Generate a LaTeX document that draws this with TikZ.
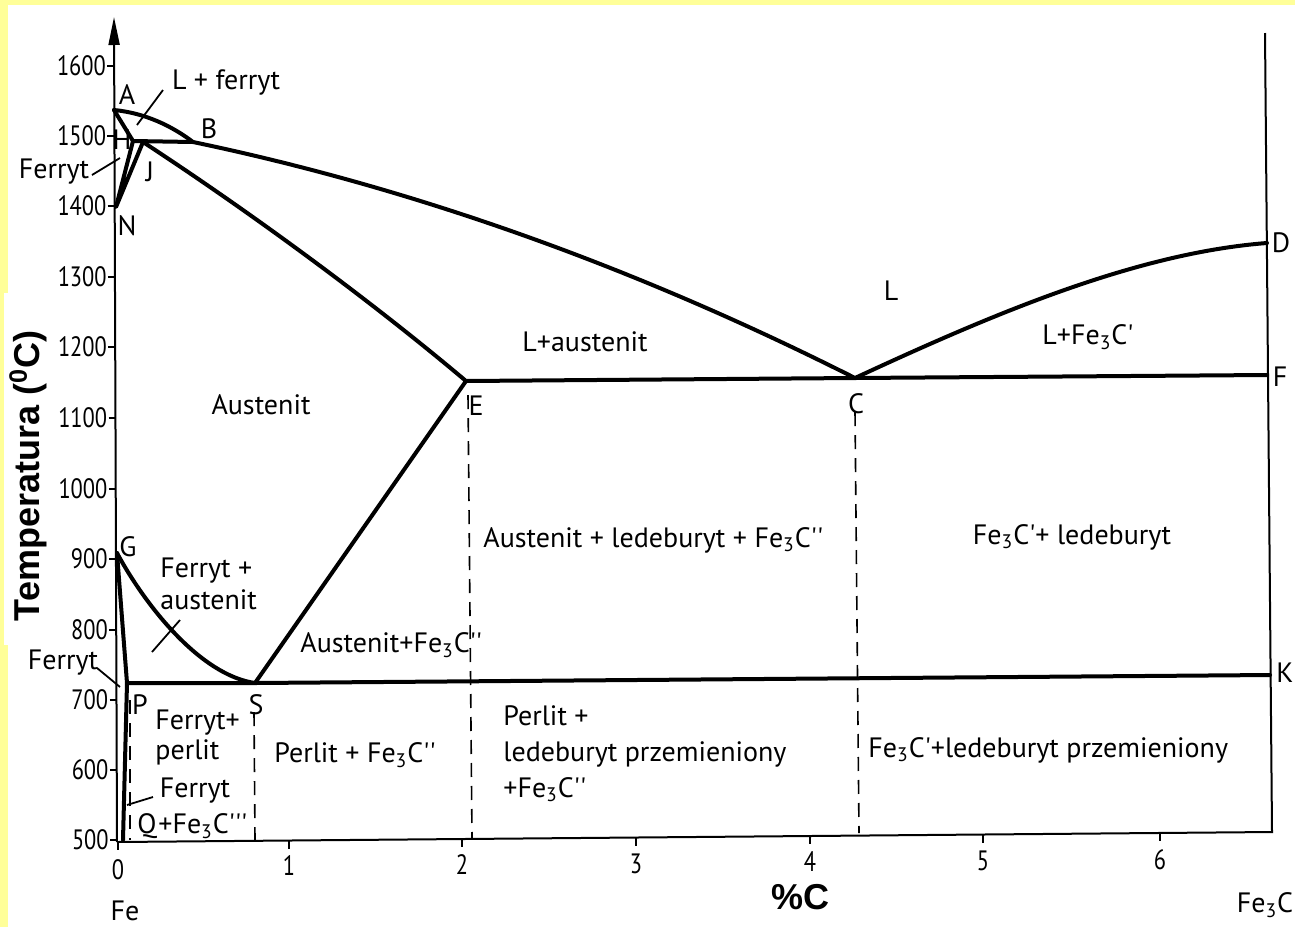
\documentclass[tikz,border=0pt]{standalone}
\usepackage{fontspec}
\usepackage{xcolor}
\newfontfamily\isofont{PT Sans}
\newfontfamily\numfont[FakeStretch=0.8]{PT Sans}
\newfontfamily\headfont{Liberation Sans}
\definecolor{paper}{RGB}{255,255,153}
\usetikzlibrary{arrows.meta}

\begin{document}
\begin{tikzpicture}[x=0.5pt, y=-0.5pt,
  phase/.style={line width=2pt, line cap=round, line join=round},
  axis/.style={line width=1pt},
  guide/.style={line width=0.8pt, dash pattern=on 7pt off 4.5pt},
  leader/.style={line width=0.9pt},
  lbl/.style={font=\isofont\fontsize{14}{16}\selectfont, inner sep=0pt},
  num/.style={font=\numfont\fontsize{14}{16}\selectfont, inner sep=0pt},
  head/.style={font=\headfont\bfseries\fontsize{18}{20}\selectfont, inner sep=0pt}]
\useasboundingbox (0,0) rectangle (1295,927);
% tlo
\fill[paper] (0,0) rectangle (1295,927);
\fill[white] (8,5) rectangle (1295,927);
\fill[white] (4,293) rectangle (22,645);
% osie
\draw[axis, -{Triangle[length=14pt,width=5.5pt]}] (117,842) -- (114,17);
\draw[axis] (117,842) -- (1272,832) -- (1265,33);
\foreach \t/\y in {1600/66,1500/136,1400/206,1300/277,1200/347,1100/418,1000/489,900/559,800/630,700/700,600/770,500/840}{
  \pgfmathsetmacro{\ax}{114+0.0036*\y}
  \draw[axis] (\ax-7,\y) -- (\ax,\y);
  \node[num, anchor=east] (T\t) at (\ax-8,\y) {\t};
}
\foreach \n/\x/\y in {0/118/870,1/289/866,2/462/865,3/636/864,4/810/862,5/983/861,6/1160/860}{
  \pgfmathsetmacro{\ay}{842-(\x-117)*10/1155}
  \draw[axis] (\x,\ay) -- (\x,\ay+8);
  \node[num] (X\n) at (\x,\y) {\n};
}
% punkty
\coordinate (A) at (114,110);
\coordinate (H) at (133,141);
\coordinate (J) at (143,142);
\coordinate (B) at (193,142);
\coordinate (N) at (116,207);
\coordinate (E) at (466,381);
\coordinate (C) at (855,378);
\coordinate (F) at (1267,375);
\coordinate (D) at (1267,243);
\coordinate (G) at (117,553);
\coordinate (P) at (127,683);
\coordinate (S) at (255,683);
\coordinate (K) at (1270,675);
\coordinate (Q) at (123,840);
% linie fazowe
\draw[phase] (A) .. controls (145,113) and (172,126) .. (B) .. controls (413,188) and (633,266) .. (C) .. controls (995,313) and (1137,253) .. (D);
\draw[phase] (A) -- (H) -- (N) -- (J) .. controls (250,212) and (370,300) .. (E) -- (S);
\draw[phase] (H) -- (B);
\draw[phase] (E) -- (C) -- (F);
\draw[phase] (G) .. controls (145,605) and (200,675) .. (S);
\draw[phase] (Q) -- (P) -- (G);
\draw[phase] (P) -- (S) -- (K);
% linie przerywane
\draw[guide] (130,700) -- (130,840);
\draw[guide] (254,712) -- (255,840);
\draw[guide] (468,395) -- (472,838);
\draw[guide] (855,412) -- (859,833);
% odnosniki
\coordinate (lf1) at (137,125);  \coordinate (lf2) at (163,90);
\coordinate (fu1) at (92,175);   \coordinate (fu2) at (120,158);
\coordinate (fa1) at (152,652);  \coordinate (fa2) at (180,620);
\coordinate (fl1) at (97,668);   \coordinate (fl2) at (120,687);
\coordinate (fq1) at (127,805);  \coordinate (fq2) at (153,797);
\draw[leader] (lf1) -- (lf2);
\draw[leader] (fu1) -- (fu2);
\draw[leader] (fa1) -- (fa2);
\draw[leader] (fl1) -- (fl2);
\draw[leader] (fq1) -- (fq2);
%Text
\node[lbl] (tA) at (127,95) {A};
\node[lbl] (tH) at (122,140) {H};
\node[lbl] (tB) at (209,129) {B};
\node[lbl] (tJ) at (150,172) {J};
\node[lbl] (tN) at (127,226) {N};
\node[lbl] (tE) at (476,406) {E};
\node[lbl] (tC) at (856,404) {C};
\node[lbl] (tD) at (1281,243) {D};
\node[lbl] (tF) at (1280,377) {F};
\node[lbl] (tG) at (128,547) {G};
\node[lbl] (tP) at (140,705) {P};
\node[lbl] (tS) at (256,705) {S};
\node[lbl] (tK) at (1285,673) {K};
\node[lbl] (tQ) at (147,826) {Q};
\node[lbl] (lferryt) at (226,82) {L + ferryt};
\node[lbl] (ferU) at (54,172) {Ferryt};
\node[lbl] (ferL) at (63,663) {Ferryt};
\node[lbl, align=left, anchor=west] (feraus) at (160,584) {Ferryt +\\austenit};
\node[lbl, align=left, anchor=west, font=\isofont\fontsize{14}{15}\selectfont] (ferper) at (155,737) {Ferryt+\\perlit};
\node[lbl] (ferQ) at (195,791) {Ferryt};
\node[lbl, anchor=west] (fe3q) at (158,826) {+Fe\textsubscript{3}C'''};
\node[lbl] (aus) at (261,405) {Austenit};
\node[lbl] (laus) at (585,342) {L+austenit};
\node[lbl] (liq) at (891,291) {L};
\node[lbl] (lfe) at (1088,337) {L+Fe\textsubscript{3}C'};
\node[lbl, anchor=west] (ausled) at (483,540) {Austenit + ledeburyt + Fe\textsubscript{3}C''};
\node[lbl] (feled) at (1072,537) {Fe\textsubscript{3}C'+ ledeburyt};
\node[lbl, anchor=west] (ausfe) at (300,645) {Austenit+Fe\textsubscript{3}C''};
\node[lbl] (perfe) at (355,755) {Perlit + Fe\textsubscript{3}C''};
\node[lbl, align=left, anchor=west, font=\isofont\fontsize{14}{18}\selectfont] (perled) at (503,754) {Perlit +\\ledeburyt przemieniony\\+Fe\textsubscript{3}C''};
\node[lbl, anchor=west] (feprz) at (868,750) {Fe\textsubscript{3}C'+ledeburyt przemieniony};
\node[lbl] (fe) at (125,911) {Fe};
\node[lbl] (fe3c) at (1265,905) {Fe\textsubscript{3}C};
\node[head] (pc) at (800,897) {\%C};
\node[head, rotate=90] (temp) at (28,476) {Temperatura (\textsuperscript{0}C)};
\end{tikzpicture}
\end{document}
